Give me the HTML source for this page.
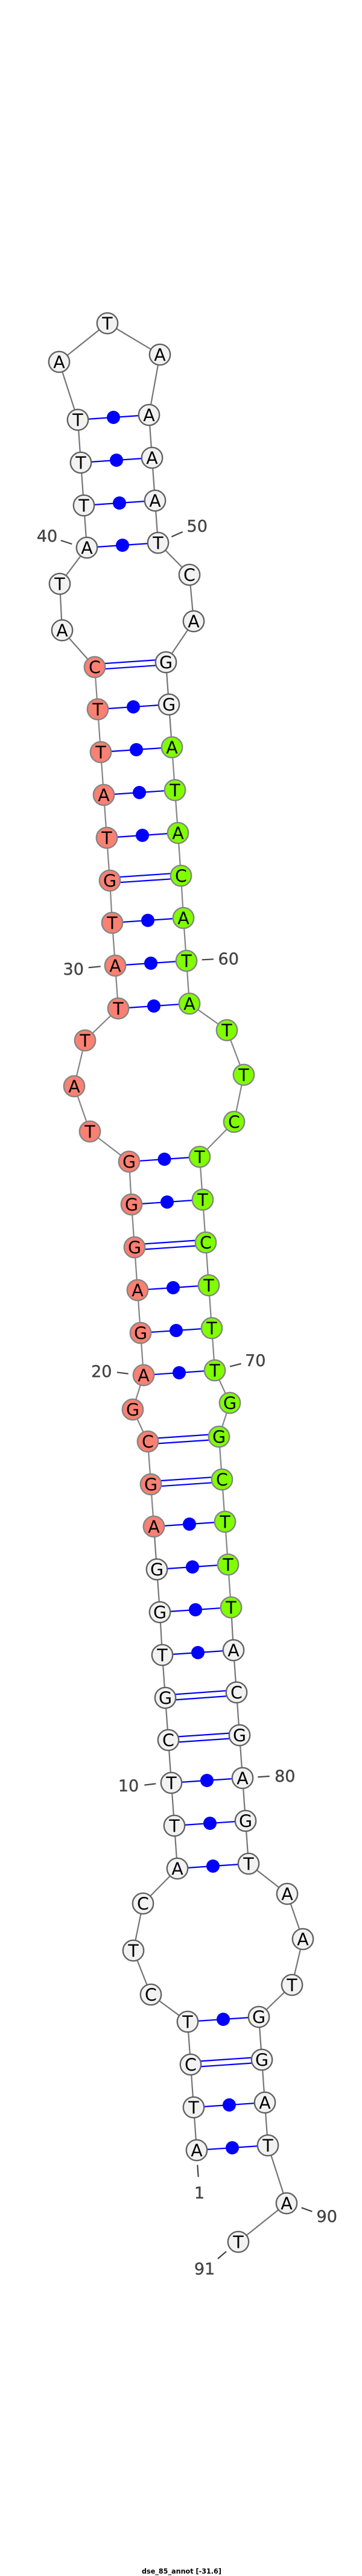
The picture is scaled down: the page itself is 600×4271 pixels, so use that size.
<!DOCTYPE html>
<html>
<head>
<meta charset="utf-8">
<style>
html,body{margin:0;padding:0;background:#fff;width:600px;height:4271px;overflow:hidden}
svg{display:block}
.bb{fill:none;stroke-width:2.2}
.p{stroke:#0000ff;stroke-width:2.2;fill:none}
.d{fill:#0000ff}
.n circle{stroke-width:2.4}
.t text{font:28.5px "DejaVu Sans",sans-serif;text-anchor:middle;fill:#000}
.l text{font:27px "DejaVu Sans",sans-serif;text-anchor:middle;fill:#444;stroke:#444;stroke-width:.4}
.k{stroke:#444;stroke-width:2.2;fill:none}
</style>
</head>
<body>
<svg width="600" height="4271" viewBox="0 0 600 4271" xmlns="http://www.w3.org/2000/svg">
<g class="bb" stroke="#757575">
<polyline points="326,3565 321,3494 316,3423 311,3352 250,3307 221,3234 237,3156 294,3098 289,3027 284,2956 279,2885 274,2815 269,2744 265,2673 260,2602 255,2531"/>
<polyline points="157,1106 103,1045 99,968 144,908 139,838 134,767 129,696 98,600 178,536 265,588 247,688 252,759 257,830 262,900 314,953 321,1030 275,1098 280,1168 285,1239"/>
<polyline points="383,2665 387,2736 392,2806 397,2877 402,2948 407,3019 412,3090 476,3140 502,3215 484,3291 429,3344 434,3415 439,3486 444,3557 475,3653 395,3717"/>
</g>
<g class="bb" stroke="#858585">
<polyline points="255,2531 250,2461 245,2390 220,2337 238,2280 233,2210 228,2139 223,2068 218,1997 214,1926 149,1876 123,1801 141,1725 196,1672 191,1601 186,1530 182,1460 177,1389 172,1318 167,1247 162,1176 157,1106"/>
<polyline points="285,1239 290,1310 295,1381 300,1452 304,1522 309,1593 314,1664 376,1708 404,1782 388,1860 331,1918 336,1989 341,2060 346,2131 351,2202 356,2272 381,2326 363,2382 368,2453 373,2523 378,2594 383,2665"/>
</g>
<g class="p">
<line x1="326" y1="3565" x2="444" y2="3557"/>
<line x1="321" y1="3494" x2="439" y2="3486"/>
<line x1="315.7" y1="3418.5" x2="433.7" y2="3410.5"/><line x1="316.3" y1="3427.5" x2="434.3" y2="3419.5"/>
<line x1="311" y1="3352" x2="429" y2="3344"/>
<line x1="294" y1="3098" x2="412" y2="3090"/>
<line x1="289" y1="3027" x2="407" y2="3019"/>
<line x1="284" y1="2956" x2="402" y2="2948"/>
<line x1="278.7" y1="2880.5" x2="396.7" y2="2872.5"/><line x1="279.3" y1="2889.5" x2="397.3" y2="2881.5"/>
<line x1="273.7" y1="2810.5" x2="391.7" y2="2802"/><line x1="274.3" y1="2819.5" x2="392.3" y2="2811"/>
<line x1="269" y1="2744" x2="387" y2="2736"/>
<line x1="265" y1="2673" x2="383" y2="2665"/>
<line x1="260" y1="2602" x2="378" y2="2594"/>
<line x1="255" y1="2531" x2="373" y2="2523"/>
<line x1="249.7" y1="2456.2" x2="367.7" y2="2448.2"/><line x1="250.3" y1="2465.2" x2="368.3" y2="2457.2"/>
<line x1="244.7" y1="2385.5" x2="362.7" y2="2377.5"/><line x1="245.3" y1="2394.5" x2="363.3" y2="2386.5"/>
<line x1="238" y1="2280" x2="356" y2="2272"/>
<line x1="233" y1="2210" x2="351" y2="2202"/>
<line x1="228" y1="2139" x2="346" y2="2131"/>
<line x1="222.7" y1="2063.5" x2="340.7" y2="2055.5"/><line x1="223.3" y1="2072.5" x2="341.3" y2="2064.5"/>
<line x1="218" y1="1997" x2="336" y2="1989"/>
<line x1="214" y1="1926" x2="331" y2="1918"/>
<line x1="196" y1="1672" x2="314" y2="1664"/>
<line x1="191" y1="1601" x2="309" y2="1593"/>
<line x1="186" y1="1530" x2="304" y2="1522"/>
<line x1="181.7" y1="1455.2" x2="299.7" y2="1447.2"/><line x1="182.3" y1="1464.2" x2="300.3" y2="1456.2"/>
<line x1="177" y1="1389" x2="295" y2="1381"/>
<line x1="172" y1="1318" x2="290" y2="1310"/>
<line x1="167" y1="1247" x2="285" y2="1239"/>
<line x1="162" y1="1176" x2="280" y2="1168"/>
<line x1="156.7" y1="1101.2" x2="274.7" y2="1093.2"/><line x1="157.3" y1="1110.2" x2="275.3" y2="1102.2"/>
<line x1="144" y1="908" x2="262" y2="900"/>
<line x1="139" y1="838" x2="257" y2="830"/>
<line x1="134" y1="767" x2="252" y2="759"/>
<line x1="129" y1="696" x2="247" y2="688"/>
</g>
<g class="d">
<circle cx="385" cy="3561" r="11"/><circle cx="380" cy="3490" r="11"/><circle cx="370" cy="3348" r="11"/>
<circle cx="353" cy="3094" r="11"/><circle cx="348" cy="3023" r="11"/><circle cx="343" cy="2952" r="11"/>
<circle cx="328" cy="2740" r="11"/><circle cx="324" cy="2669" r="11"/><circle cx="319" cy="2598" r="11"/><circle cx="314" cy="2527" r="11"/>
<circle cx="297" cy="2276" r="11"/><circle cx="292" cy="2206" r="11"/><circle cx="287" cy="2135" r="11"/><circle cx="277" cy="1993" r="11"/><circle cx="272.5" cy="1922" r="11"/>
<circle cx="255" cy="1668" r="11"/><circle cx="250" cy="1597" r="11"/><circle cx="245" cy="1526" r="11"/><circle cx="236" cy="1385" r="11"/><circle cx="231" cy="1314" r="11"/><circle cx="226" cy="1243" r="11"/><circle cx="221" cy="1172" r="11"/>
<circle cx="203" cy="904" r="11"/><circle cx="198" cy="834" r="11"/><circle cx="193" cy="763" r="11"/><circle cx="188" cy="692" r="11"/>
</g>
<g class="n" fill="#f2f2f2" stroke="#626262">
<circle cx="326" cy="3565" r="17.2"/><circle cx="321" cy="3494" r="17.2"/><circle cx="316" cy="3423" r="17.2"/><circle cx="311" cy="3352" r="17.2"/><circle cx="250" cy="3307" r="17.2"/><circle cx="221" cy="3234" r="17.2"/><circle cx="237" cy="3156" r="17.2"/><circle cx="294" cy="3098" r="17.2"/><circle cx="289" cy="3027" r="17.2"/><circle cx="284" cy="2956" r="17.2"/><circle cx="279" cy="2885" r="17.2"/><circle cx="274" cy="2815" r="17.2"/><circle cx="269" cy="2744" r="17.2"/><circle cx="265" cy="2673" r="17.2"/><circle cx="260" cy="2602" r="17.2"/>
<circle cx="103" cy="1045" r="17.2"/><circle cx="99" cy="968" r="17.2"/><circle cx="144" cy="908" r="17.2"/><circle cx="139" cy="838" r="17.2"/><circle cx="134" cy="767" r="17.2"/><circle cx="129" cy="696" r="17.2"/><circle cx="98" cy="600" r="17.2"/><circle cx="178" cy="536" r="17.2"/><circle cx="265" cy="588" r="17.2"/><circle cx="247" cy="688" r="17.2"/><circle cx="252" cy="759" r="17.2"/><circle cx="257" cy="830" r="17.2"/><circle cx="262" cy="900" r="17.2"/><circle cx="314" cy="953" r="17.2"/><circle cx="321" cy="1030" r="17.2"/><circle cx="275" cy="1098" r="17.2"/><circle cx="280" cy="1168" r="17.2"/>
<circle cx="387" cy="2736" r="17.2"/><circle cx="392" cy="2806" r="17.2"/><circle cx="397" cy="2877" r="17.2"/><circle cx="402" cy="2948" r="17.2"/><circle cx="407" cy="3019" r="17.2"/><circle cx="412" cy="3090" r="17.2"/><circle cx="476" cy="3140" r="17.2"/><circle cx="502" cy="3215" r="17.2"/><circle cx="484" cy="3291" r="17.2"/><circle cx="429" cy="3344" r="17.2"/><circle cx="434" cy="3415" r="17.2"/><circle cx="439" cy="3486" r="17.2"/><circle cx="444" cy="3557" r="17.2"/><circle cx="475" cy="3653" r="17.2"/><circle cx="395" cy="3717" r="17.2"/>
</g>
<g class="n" fill="#fa8072" stroke="#858585">
<circle cx="255" cy="2531" r="17.2"/><circle cx="250" cy="2461" r="17.2"/><circle cx="245" cy="2390" r="17.2"/><circle cx="220" cy="2337" r="17.2"/><circle cx="238" cy="2280" r="17.2"/><circle cx="233" cy="2210" r="17.2"/><circle cx="228" cy="2139" r="17.2"/><circle cx="223" cy="2068" r="17.2"/><circle cx="218" cy="1997" r="17.2"/><circle cx="214" cy="1926" r="17.2"/><circle cx="149" cy="1876" r="17.2"/><circle cx="123" cy="1801" r="17.2"/><circle cx="141" cy="1725" r="17.2"/><circle cx="196" cy="1672" r="17.2"/><circle cx="191" cy="1601" r="17.2"/><circle cx="186" cy="1530" r="17.2"/><circle cx="182" cy="1460" r="17.2"/><circle cx="177" cy="1389" r="17.2"/><circle cx="172" cy="1318" r="17.2"/><circle cx="167" cy="1247" r="17.2"/><circle cx="162" cy="1176" r="17.2"/><circle cx="157" cy="1106" r="17.2"/>
</g>
<g class="n" fill="#7fff00" stroke="#858585">
<circle cx="285" cy="1239" r="17.2"/><circle cx="290" cy="1310" r="17.2"/><circle cx="295" cy="1381" r="17.2"/><circle cx="300" cy="1452" r="17.2"/><circle cx="304" cy="1522" r="17.2"/><circle cx="309" cy="1593" r="17.2"/><circle cx="314" cy="1664" r="17.2"/><circle cx="376" cy="1708" r="17.2"/><circle cx="404" cy="1782" r="17.2"/><circle cx="388" cy="1860" r="17.2"/><circle cx="331" cy="1918" r="17.2"/><circle cx="336" cy="1989" r="17.2"/><circle cx="341" cy="2060" r="17.2"/><circle cx="346" cy="2131" r="17.2"/><circle cx="351" cy="2202" r="17.2"/><circle cx="356" cy="2272" r="17.2"/><circle cx="381" cy="2326" r="17.2"/><circle cx="363" cy="2382" r="17.2"/><circle cx="368" cy="2453" r="17.2"/><circle cx="373" cy="2523" r="17.2"/><circle cx="378" cy="2594" r="17.2"/><circle cx="383" cy="2665" r="17.2"/>
</g>
<g class="t" transform="translate(0,10.4)">
<text x="326" y="3565">A</text><text x="321" y="3494">T</text><text x="316" y="3423">C</text><text x="311" y="3352">T</text><text x="250" y="3307">C</text><text x="221" y="3234">T</text><text x="237" y="3156">C</text><text x="294" y="3098">A</text><text x="289" y="3027">T</text><text x="284" y="2956">T</text><text x="279" y="2885">C</text><text x="274" y="2815">G</text><text x="269" y="2744">T</text><text x="265" y="2673">G</text><text x="260" y="2602">G</text><text x="255" y="2531">A</text><text x="250" y="2461">G</text><text x="245" y="2390">C</text><text x="220" y="2337">G</text><text x="238" y="2280">A</text><text x="233" y="2210">G</text><text x="228" y="2139">A</text><text x="223" y="2068">G</text><text x="218" y="1997">G</text><text x="214" y="1926">G</text><text x="149" y="1876">T</text><text x="123" y="1801">A</text><text x="141" y="1725">T</text><text x="196" y="1672">T</text><text x="191" y="1601">A</text><text x="186" y="1530">T</text><text x="182" y="1460">G</text><text x="177" y="1389">T</text><text x="172" y="1318">A</text><text x="167" y="1247">T</text><text x="162" y="1176">T</text><text x="157" y="1106">C</text><text x="103" y="1045">A</text><text x="99" y="968">T</text><text x="144" y="908">A</text><text x="139" y="838">T</text><text x="134" y="767">T</text><text x="129" y="696">T</text><text x="98" y="600">A</text><text x="178" y="536">T</text><text x="265" y="588">A</text><text x="247" y="688">A</text><text x="252" y="759">A</text><text x="257" y="830">A</text><text x="262" y="900">T</text><text x="314" y="953">C</text><text x="321" y="1030">A</text><text x="275" y="1098">G</text><text x="280" y="1168">G</text><text x="285" y="1239">A</text><text x="290" y="1310">T</text><text x="295" y="1381">A</text><text x="300" y="1452">C</text><text x="304" y="1522">A</text><text x="309" y="1593">T</text><text x="314" y="1664">A</text><text x="376" y="1708">T</text><text x="404" y="1782">T</text><text x="388" y="1860">C</text><text x="331" y="1918">T</text><text x="336" y="1989">T</text><text x="341" y="2060">C</text><text x="346" y="2131">T</text><text x="351" y="2202">T</text><text x="356" y="2272">T</text><text x="381" y="2326">G</text><text x="363" y="2382">G</text><text x="368" y="2453">C</text><text x="373" y="2523">T</text><text x="378" y="2594">T</text><text x="383" y="2665">T</text><text x="387" y="2736">A</text><text x="392" y="2806">C</text><text x="397" y="2877">G</text><text x="402" y="2948">A</text><text x="407" y="3019">G</text><text x="412" y="3090">T</text><text x="476" y="3140">A</text><text x="502" y="3215">A</text><text x="484" y="3291">T</text><text x="429" y="3344">G</text><text x="434" y="3415">G</text><text x="439" y="3486">A</text><text x="444" y="3557">T</text><text x="475" y="3653">A</text><text x="395" y="3717">T</text>
</g>
<g class="k">
<line x1="327.3" y1="3589.3" x2="328.7" y2="3609.3"/>
<line x1="239.3" y1="2959.7" x2="258.3" y2="2957.3"/>
<line x1="194" y1="2275.3" x2="212.7" y2="2277.7"/>
<line x1="146.7" y1="1604.3" x2="166.7" y2="1602.3"/>
<line x1="100.7" y1="896" x2="119.3" y2="902"/>
<line x1="284.3" y1="890" x2="302.7" y2="881.7"/>
<line x1="334.7" y1="1591.3" x2="354" y2="1590.3"/>
<line x1="381" y1="2265.7" x2="399.7" y2="2261"/>
<line x1="427.3" y1="2946.3" x2="446.7" y2="2945"/>
<line x1="499.7" y1="3660.3" x2="517.3" y2="3666.7"/>
<line x1="375" y1="3733" x2="361" y2="3745"/>
</g>
<g class="l" transform="translate(0,10)">
<text x="330.5" y="3635">1</text>
<text x="213" y="2960">10</text>
<text x="168.3" y="2273">20</text>
<text x="121.7" y="1606">30</text>
<text x="78" y="888">40</text>
<text x="326.7" y="871.7">50</text>
<text x="378.7" y="1589">60</text>
<text x="423.3" y="2255">70</text>
<text x="472.3" y="2944">80</text>
<text x="541.7" y="3674">90</text>
<text x="339" y="3761">91</text>
</g>
<text x="301" y="4267" text-anchor="middle" font-family="'DejaVu Sans',sans-serif" font-weight="bold" font-size="11.2" fill="#000">dse_85_annot [-31.6]</text>
</svg>
</body>
</html>
